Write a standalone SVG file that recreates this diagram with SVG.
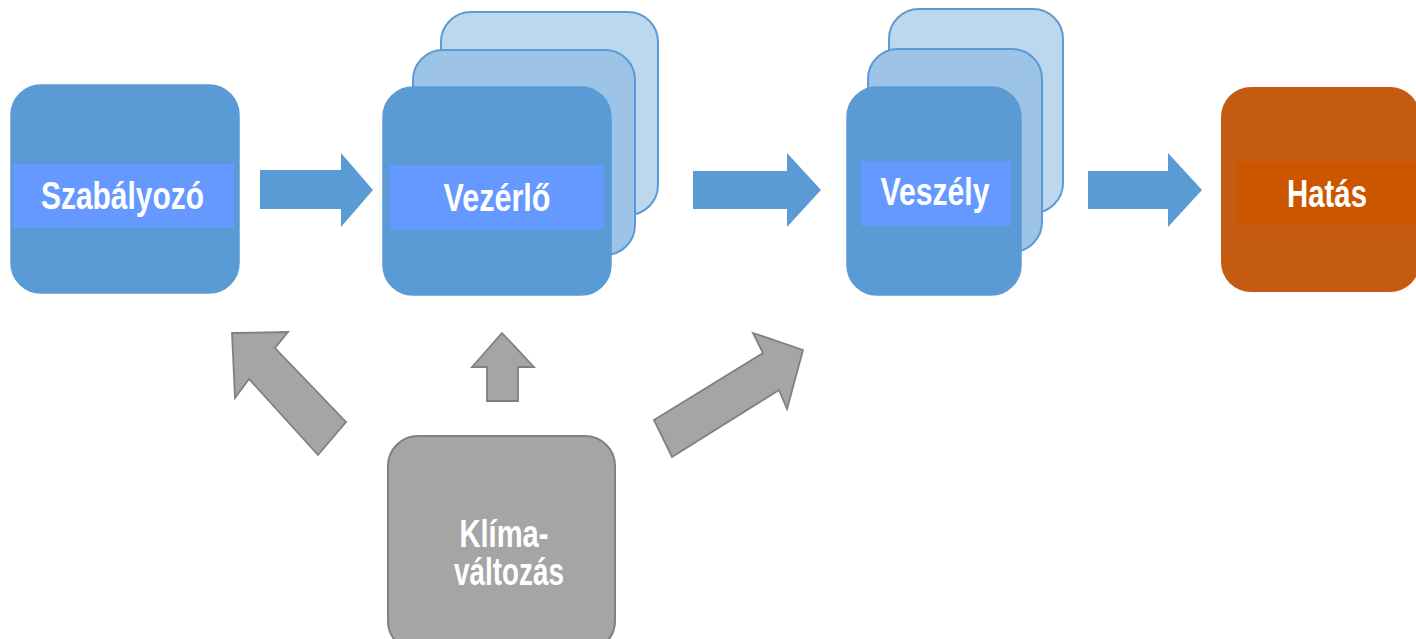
<svg xmlns="http://www.w3.org/2000/svg" width="1416" height="639" viewBox="0 0 1416 639">
<style>
.front{fill:#5B9BD5;stroke:#5B9BD5;stroke-width:1.5}
.mid{fill:#9DC3E6;stroke:#5B9BD5;stroke-width:2}
.back{fill:#BDD7EE;stroke:#5B9BD5;stroke-width:2}
.band{fill:#6699FF}
.lbl{font-family:"Liberation Sans",Arial,sans-serif;font-weight:bold;font-size:38px;fill:#FFFFFF;text-anchor:middle}
.barrow{fill:#5B9BD5}
.garrow{fill:#A5A5A5;stroke:#808080;stroke-width:1.8;stroke-linejoin:miter}
</style>
<rect width="1416" height="639" fill="#FFFFFF"/>
<g id="szabalyozo">
<rect class="front" x="11" y="85" width="228" height="208" rx="30"/>
<rect class="band" x="13" y="164" width="221" height="64"/>
<text class="lbl" x="122.5" y="209" textLength="163" lengthAdjust="spacingAndGlyphs">Szabályozó</text>
</g>
<g id="vezerlo">
<rect class="back" x="441" y="12" width="217" height="203" rx="30"/>
<rect class="mid" x="413" y="50" width="222" height="205" rx="30"/>
<rect class="front" x="383" y="87" width="228" height="208" rx="30"/>
<rect class="band" x="390" y="165" width="214" height="65"/>
<text class="lbl" x="497" y="211" textLength="107" lengthAdjust="spacingAndGlyphs">Vezérlő</text>
</g>
<g id="veszely">
<rect class="back" x="889" y="9" width="174" height="204" rx="30"/>
<rect class="mid" x="868" y="49" width="174" height="203" rx="30"/>
<rect class="front" x="847" y="87" width="174" height="208" rx="30"/>
<rect class="band" x="861" y="161" width="150" height="65"/>
<text class="lbl" x="935" y="205" textLength="109" lengthAdjust="spacingAndGlyphs">Veszély</text>
</g>
<g id="hatas">
<rect x="1221" y="87" width="199" height="205" rx="30" fill="#C55A11"/>
<rect x="1237" y="162" width="180" height="63" fill="#CC5500"/>
<text class="lbl" x="1327" y="207" textLength="80" lengthAdjust="spacingAndGlyphs">Hatás</text>
</g>
<g id="klimavaltozas">
<rect x="388" y="436" width="227" height="215" rx="30" fill="#A5A5A5" stroke="#808080" stroke-width="2"/>
<text class="lbl" x="504" y="547" textLength="89" lengthAdjust="spacingAndGlyphs">Klíma-</text>
<text class="lbl" x="509" y="585" textLength="110" lengthAdjust="spacingAndGlyphs">változás</text>
</g>
<g id="connectors">
<polygon class="barrow" points="260,170 341,170 341,153 373,190 341,227 341,209 260,209"/>
<polygon class="barrow" points="693,171 787,171 787,153 821,190 787,227 787,209 693,209"/>
<polygon class="barrow" points="1088,171 1168,171 1168,153 1202,190 1168,227 1168,209 1088,209"/>
<polygon class="garrow" points="232,333 288,332 275,348 346,422 318,455 249,379 235,398"/>
<polygon class="garrow" points="502,333 534,367 518,367 518,401 487,401 487,367 472,367"/>
<polygon class="garrow" points="654,420 763,353 753,333 803,350 787,409 779,390 672,457"/>
</g>
</svg>
